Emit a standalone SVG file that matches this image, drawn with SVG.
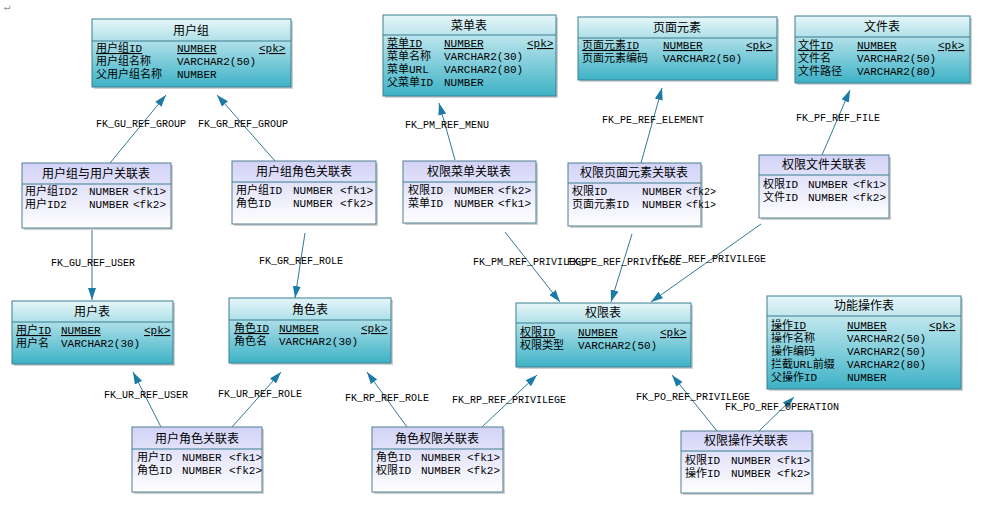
<svg xmlns="http://www.w3.org/2000/svg" width="984" height="506" viewBox="0 0 984 506">
<defs>
<linearGradient id="gp" x1="0" y1="0" x2="0" y2="1"><stop offset="0" stop-color="#e6f6f9"/><stop offset="1" stop-color="#3db2c6"/></linearGradient>
<linearGradient id="gc" x1="0" y1="0" x2="0" y2="1"><stop offset="0" stop-color="#d2d2f7"/><stop offset="1" stop-color="#ffffff"/></linearGradient>
<marker id="ah" viewBox="0 0 12 8" refX="12" refY="4" markerWidth="12" markerHeight="8" markerUnits="userSpaceOnUse" orient="auto"><path d="M0,0 L12,4 L0,8 Z" fill="#1b7ba6"/></marker>
<style>
.p{fill:url(#gp);stroke:#3a7f92;stroke-width:1}
.c{fill:url(#gc);stroke:#4f7f92;stroke-width:1}
.sh{fill:#d0d0d0}
.hl{stroke:#3a7f92;stroke-width:1}
.t{font-family:"Noto Sans CJK SC","Liberation Sans",sans-serif;font-size:12px;text-anchor:middle;fill:#000}
.f{font-family:"Liberation Mono","Noto Sans CJK SC",monospace;font-size:11px;fill:#000}
.u{text-decoration:underline}
.l{font-family:"Liberation Mono",monospace;font-size:10px;fill:#000}
.cn{stroke:#2e7b96;stroke-width:1;fill:none;marker-end:url(#ah)}
</style>
</defs>
<rect width="984" height="506" fill="#fff"/>
<text x="4" y="10" class="f" fill="#888" style="fill:#999">↵</text>

<g id="connectors">
<path class="cn" d="M110,163 L166,95"/>
<path class="cn" d="M275,161 L217,95"/>
<path class="cn" d="M92,228 L92,300"/>
<path class="cn" d="M305,233 L295,298"/>
<path class="cn" d="M161,427 L133,372"/>
<path class="cn" d="M232,427 L281,372"/>
<path class="cn" d="M407,427 L367,372"/>
<path class="cn" d="M482,427 L537,375"/>
<path class="cn" d="M455,160 L439,103"/>
<path class="cn" d="M641,163 L662,88"/>
<path class="cn" d="M822,155 L850,90"/>
<path class="cn" d="M505,232 L560,302"/>
<path class="cn" d="M632,234 L611,302"/>
<path class="cn" d="M761,224 L651,302"/>
<path class="cn" d="M717,431 L672,375"/>
<path class="cn" d="M759,431 L794,397"/>
<text class="l" x="96" y="127">FK_GU_REF_GROUP</text>
<text class="l" x="198" y="127">FK_GR_REF_GROUP</text>
<text class="l" x="51" y="266">FK_GU_REF_USER</text>
<text class="l" x="259" y="264">FK_GR_REF_ROLE</text>
<text class="l" x="104" y="398">FK_UR_REF_USER</text>
<text class="l" x="218" y="397">FK_UR_REF_ROLE</text>
<text class="l" x="345" y="401">FK_RP_REF_ROLE</text>
<text class="l" x="452" y="403">FK_RP_REF_PRIVILEGE</text>
<text class="l" x="405" y="128">FK_PM_REF_MENU</text>
<text class="l" x="602" y="123">FK_PE_REF_ELEMENT</text>
<text class="l" x="796" y="121">FK_PF_REF_FILE</text>
<text class="l" x="473" y="265">FK_PM_REF_PRIVILEGE</text>
<text class="l" x="567" y="265">FK_PE_REF_PRIVILEGE</text>
<text class="l" x="652" y="262">FK_PF_REF_PRIVILEGE</text>
<text class="l" x="636" y="400">FK_PO_REF_PRIVILEGE</text>
<text class="l" x="725" y="410">FK_PO_REF_OPERATION</text>
</g>

<g id="usergroup">
<rect class="sh" x="94" y="21" width="199" height="68"/>
<rect class="p" x="92" y="19" width="199" height="68"/>
<line class="hl" x1="92" y1="41" x2="291" y2="41"/>
<text class="t" x="191" y="35">用户组</text>
<text class="f u" x="96" y="52">用户组ID</text><text class="f u" x="177" y="52">NUMBER</text><text class="f u" x="259" y="52">&lt;pk&gt;</text>
<text class="f" x="96" y="65">用户组名称</text><text class="f" x="177" y="65">VARCHAR2(50)</text>
<text class="f" x="96" y="78">父用户组名称</text><text class="f" x="177" y="78">NUMBER</text>
</g>

<g id="usergroup_user">
<rect class="sh" x="24" y="165" width="149" height="65"/>
<rect class="c" x="22" y="163" width="149" height="65"/>
<line class="hl" x1="22" y1="184" x2="171" y2="184"/>
<text class="t" x="96" y="178">用户组与用户关联表</text>
<text class="f" x="25" y="195">用户组ID2</text><text class="f" x="89" y="195">NUMBER</text><text class="f" x="133" y="195">&lt;fk1&gt;</text>
<text class="f" x="25" y="208">用户ID2</text><text class="f" x="89" y="208">NUMBER</text><text class="f" x="133" y="208">&lt;fk2&gt;</text>
</g>

<g id="usergroup_role">
<rect class="sh" x="234" y="163" width="144" height="63"/>
<rect class="c" x="232" y="161" width="144" height="63"/>
<line class="hl" x1="232" y1="182" x2="376" y2="182"/>
<text class="t" x="304" y="176">用户组角色关联表</text>
<text class="f" x="236" y="194">用户组ID</text><text class="f" x="293" y="194">NUMBER</text><text class="f" x="340" y="194">&lt;fk1&gt;</text>
<text class="f" x="236" y="207">角色ID</text><text class="f" x="293" y="207">NUMBER</text><text class="f" x="340" y="207">&lt;fk2&gt;</text>
</g>

<g id="menu">
<rect class="sh" x="385" y="17" width="173" height="81"/>
<rect class="p" x="383" y="15" width="173" height="81"/>
<line class="hl" x1="383" y1="35" x2="556" y2="35"/>
<text class="t" x="469" y="30">菜单表</text>
<text class="f u" x="387" y="47">菜单ID</text><text class="f u" x="444" y="47">NUMBER</text><text class="f u" x="527" y="47">&lt;pk&gt;</text>
<text class="f" x="387" y="60">菜单名称</text><text class="f" x="444" y="60">VARCHAR2(30)</text>
<text class="f" x="387" y="73">菜单URL</text><text class="f" x="444" y="73">VARCHAR2(80)</text>
<text class="f" x="387" y="86">父菜单ID</text><text class="f" x="444" y="86">NUMBER</text>
</g>

<g id="element">
<rect class="sh" x="580" y="19" width="199" height="63"/>
<rect class="p" x="578" y="17" width="199" height="63"/>
<line class="hl" x1="578" y1="38" x2="777" y2="38"/>
<text class="t" x="677" y="32">页面元素</text>
<text class="f u" x="582" y="49">页面元素ID</text><text class="f u" x="663" y="49">NUMBER</text><text class="f u" x="746" y="49">&lt;pk&gt;</text>
<text class="f" x="582" y="62">页面元素编码</text><text class="f" x="663" y="62">VARCHAR2(50)</text>
</g>

<g id="file">
<rect class="sh" x="797" y="18" width="175" height="67"/>
<rect class="p" x="795" y="16" width="175" height="67"/>
<line class="hl" x1="795" y1="37" x2="970" y2="37"/>
<text class="t" x="882" y="31">文件表</text>
<text class="f u" x="798" y="49">文件ID</text><text class="f u" x="857" y="49">NUMBER</text><text class="f u" x="938" y="49">&lt;pk&gt;</text>
<text class="f" x="798" y="62">文件名</text><text class="f" x="857" y="62">VARCHAR2(50)</text>
<text class="f" x="798" y="75">文件路径</text><text class="f" x="857" y="75">VARCHAR2(80)</text>
</g>

<g id="priv_menu">
<rect class="sh" x="405" y="163" width="133" height="62"/>
<rect class="c" x="403" y="161" width="133" height="62"/>
<line class="hl" x1="403" y1="182" x2="536" y2="182"/>
<text class="t" x="469" y="176">权限菜单关联表</text>
<text class="f" x="408" y="194">权限ID</text><text class="f" x="454" y="194">NUMBER</text><text class="f" x="498" y="194">&lt;fk2&gt;</text>
<text class="f" x="408" y="207">菜单ID</text><text class="f" x="454" y="207">NUMBER</text><text class="f" x="498" y="207">&lt;fk1&gt;</text>
</g>

<g id="priv_element">
<rect class="sh" x="570" y="165" width="133" height="63"/>
<rect class="c" x="568" y="163" width="133" height="63"/>
<line class="hl" x1="568" y1="183" x2="701" y2="183"/>
<text class="t" x="634" y="177">权限页面元素关联表</text>
<text class="f" x="572" y="195">权限ID</text><text class="f" x="642" y="195">NUMBER</text><text class="f" x="686" y="195" style="font-size:10px">&lt;fk2&gt;</text>
<text class="f" x="572" y="208">页面元素ID</text><text class="f" x="642" y="208">NUMBER</text><text class="f" x="686" y="208" style="font-size:10px">&lt;fk1&gt;</text>
</g>

<g id="priv_file">
<rect class="sh" x="761" y="157" width="130" height="63"/>
<rect class="c" x="759" y="155" width="130" height="63"/>
<line class="hl" x1="759" y1="175" x2="889" y2="175"/>
<text class="t" x="824" y="169">权限文件关联表</text>
<text class="f" x="763" y="188">权限ID</text><text class="f" x="808" y="188">NUMBER</text><text class="f" x="853" y="188">&lt;fk1&gt;</text>
<text class="f" x="763" y="201">文件ID</text><text class="f" x="808" y="201">NUMBER</text><text class="f" x="853" y="201">&lt;fk2&gt;</text>
</g>

<g id="user">
<rect class="sh" x="14" y="303" width="161" height="63"/>
<rect class="p" x="12" y="301" width="161" height="63"/>
<line class="hl" x1="12" y1="322" x2="173" y2="322"/>
<text class="t" x="92" y="316">用户表</text>
<text class="f u" x="16" y="334">用户ID</text><text class="f u" x="61" y="334">NUMBER</text><text class="f u" x="144" y="334">&lt;pk&gt;</text>
<text class="f" x="16" y="347">用户名</text><text class="f" x="61" y="347">VARCHAR2(30)</text>
</g>

<g id="role">
<rect class="sh" x="231" y="300" width="162" height="65"/>
<rect class="p" x="229" y="298" width="162" height="65"/>
<line class="hl" x1="229" y1="320" x2="391" y2="320"/>
<text class="t" x="310" y="314">角色表</text>
<text class="f u" x="234" y="332">角色ID</text><text class="f u" x="279" y="332">NUMBER</text><text class="f u" x="361" y="332">&lt;pk&gt;</text>
<text class="f" x="234" y="345">角色名</text><text class="f" x="279" y="345">VARCHAR2(30)</text>
</g>

<g id="privilege">
<rect class="sh" x="518" y="305" width="175" height="64"/>
<rect class="p" x="516" y="303" width="175" height="64"/>
<line class="hl" x1="516" y1="323" x2="691" y2="323"/>
<text class="t" x="603" y="317">权限表</text>
<text class="f u" x="520" y="336">权限ID</text><text class="f u" x="578" y="336">NUMBER</text><text class="f u" x="660" y="336">&lt;pk&gt;</text>
<text class="f" x="520" y="349">权限类型</text><text class="f" x="578" y="349">VARCHAR2(50)</text>
</g>

<g id="operation">
<rect class="sh" x="769" y="298" width="194" height="93"/>
<rect class="p" x="767" y="296" width="194" height="93"/>
<line class="hl" x1="767" y1="316" x2="961" y2="316"/>
<text class="t" x="864" y="310">功能操作表</text>
<text class="f u" x="771" y="329">操作ID</text><text class="f u" x="847" y="329">NUMBER</text><text class="f u" x="929" y="329">&lt;pk&gt;</text>
<text class="f" x="771" y="342">操作名称</text><text class="f" x="847" y="342">VARCHAR2(50)</text>
<text class="f" x="771" y="355">操作编码</text><text class="f" x="847" y="355">VARCHAR2(50)</text>
<text class="f" x="771" y="368">拦截URL前缀</text><text class="f" x="847" y="368">VARCHAR2(80)</text>
<text class="f" x="771" y="381">父操作ID</text><text class="f" x="847" y="381">NUMBER</text>
</g>

<g id="user_role">
<rect class="sh" x="134" y="429" width="130" height="65"/>
<rect class="c" x="132" y="427" width="130" height="65"/>
<line class="hl" x1="132" y1="449" x2="262" y2="449"/>
<text class="t" x="197" y="443">用户角色关联表</text>
<text class="f" x="137" y="461">用户ID</text><text class="f" x="182" y="461">NUMBER</text><text class="f" x="229" y="461">&lt;fk1&gt;</text>
<text class="f" x="137" y="474">角色ID</text><text class="f" x="182" y="474">NUMBER</text><text class="f" x="229" y="474">&lt;fk2&gt;</text>
</g>

<g id="role_priv">
<rect class="sh" x="374" y="429" width="131" height="65"/>
<rect class="c" x="372" y="427" width="131" height="65"/>
<line class="hl" x1="372" y1="449" x2="503" y2="449"/>
<text class="t" x="437" y="443">角色权限关联表</text>
<text class="f" x="376" y="461">角色ID</text><text class="f" x="421" y="461">NUMBER</text><text class="f" x="467" y="461">&lt;fk1&gt;</text>
<text class="f" x="376" y="474">权限ID</text><text class="f" x="421" y="474">NUMBER</text><text class="f" x="467" y="474">&lt;fk2&gt;</text>
</g>

<g id="priv_op">
<rect class="sh" x="683" y="433" width="131" height="62"/>
<rect class="c" x="681" y="431" width="131" height="62"/>
<line class="hl" x1="681" y1="451" x2="812" y2="451"/>
<text class="t" x="746" y="445">权限操作关联表</text>
<text class="f" x="685" y="464">权限ID</text><text class="f" x="731" y="464">NUMBER</text><text class="f" x="777" y="464">&lt;fk1&gt;</text>
<text class="f" x="685" y="477">操作ID</text><text class="f" x="731" y="477">NUMBER</text><text class="f" x="777" y="477">&lt;fk2&gt;</text>
</g>
</svg>
